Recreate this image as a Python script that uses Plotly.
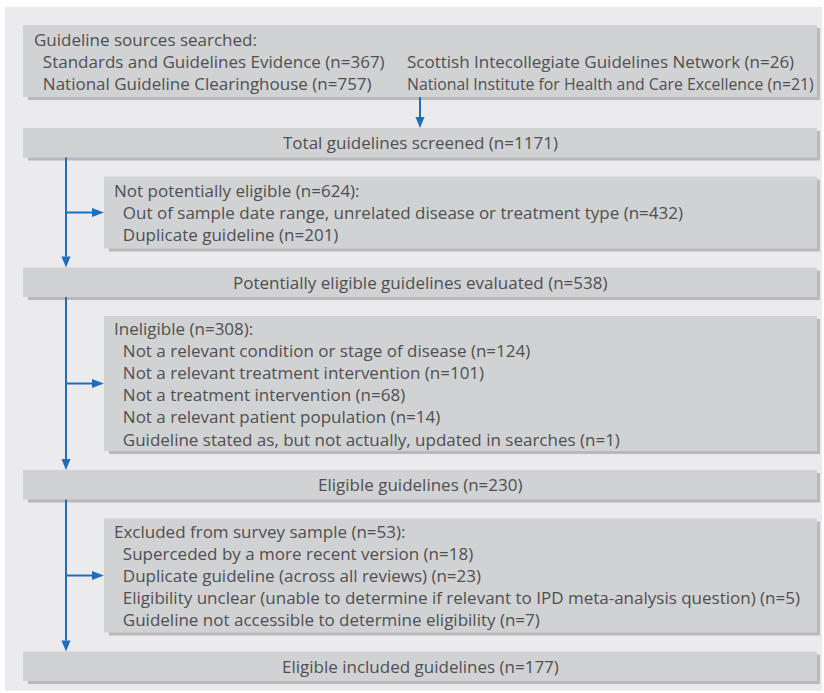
import plotly.graph_objects as go

# ---------------- data ----------------
source_title = "Guideline sources searched:"
source_names = ["Standards and Guidelines Evidence", "National Guideline Clearinghouse",
                "Scottish Intecollegiate Guidelines Network",
                "National Institute for Health and Care Excellence"]
source_n = [367, 757, 26, 21]

stage_labels = ["Total guidelines screened", "Potentially eligible guidelines evaluated",
                "Eligible guidelines", "Eligible included guidelines"]
stage_n = [1171, 538, 230, 177]

excl_titles = ["Not potentially eligible", "Ineligible", "Excluded from survey sample"]
excl_n = [624, 308, 53]
excl_reasons = [
    ["Out of sample date range, unrelated disease or treatment type", "Duplicate guideline"],
    ["Not a relevant condition or stage of disease", "Not a relevant treatment intervention",
     "Not a treatment intervention", "Not a relevant patient population",
     "Guideline stated as, but not actually, updated in searches"],
    ["Superceded by a more recent version", "Duplicate guideline (across all reviews)",
     "Eligibility unclear (unable to determine if relevant to IPD meta-analysis question)",
     "Guideline not accessible to determine eligibility"],
]
excl_reason_n = [[432, 201], [124, 101, 68, 14, 1], [18, 23, 5, 7]]

# ---------------- style / layout ----------------
W, H = 824, 693
PANEL = "#ebebed"
BOX = "#d1d2d4"
SHADOW = "#b8b9bb"
BLUE = "#1a6fbf"
TXT = "#4f4f51"
FONT = "Open Sans"
FS = 17
LINE = 21
IND = "\u00a0\u00a0"

MX0, MX1 = 23, 817      # main box x extents
SX0 = 104               # side box left
SPINE = 66              # vertical connector x

shapes = []
annos = []


def box(x0, y0, x1, y1):
    shapes.append(dict(type="rect", x0=x0 + 5, y0=y0 + 3, x1=x1 + 3, y1=y1 + 3,
                       fillcolor=SHADOW, line=dict(width=0), layer="below"))
    shapes.append(dict(type="rect", x0=x0, y0=y0, x1=x1, y1=y1,
                       fillcolor=BOX, line=dict(width=0), layer="below"))


def text(x, y, s, anchor="left"):
    annos.append(dict(x=x, y=y, text=s, showarrow=False, xanchor=anchor, yanchor="middle",
                      align=anchor if anchor != "center" else "center",
                      font=dict(family=FONT, size=FS, color=TXT)))


def vline_arrow(x, y0, y1, head=True):
    end = y1 - (11 if head else 0)
    shapes.append(dict(type="line", x0=x, y0=y0, x1=x, y1=end, line=dict(color=BLUE, width=2)))
    if head:
        shapes.append(dict(type="path", path=f"M{x-4.5},{end} L{x+4.5},{end} L{x},{y1} Z",
                           fillcolor=BLUE, line=dict(width=0)))


def hline_arrow(x0, x1, y):
    end = x1 - 12
    shapes.append(dict(type="line", x0=x0, y0=y, x1=end, y1=y, line=dict(color=BLUE, width=2)))
    shapes.append(dict(type="path", path=f"M{end},{y-4.5} L{end},{y+4.5} L{x1},{y} Z",
                       fillcolor=BLUE, line=dict(width=0)))


# outer panel
shapes.append(dict(type="rect", x0=5, y0=7, x1=822, y1=691, fillcolor=PANEL,
                   line=dict(width=0), layer="below"))

# top box: sources (two columns)
y = 25
h1 = 3 * LINE + 9
box(MX0, y, MX1, y + h1)
left = [source_title] + [f"{IND}{nm} (n={n})" for nm, n in zip(source_names[:2], source_n[:2])]
text(MX0 + 9, y + h1 / 2, "<br>".join(left))
right = [f"{source_names[2]} (n={source_n[2]})",
         f"<span style='font-size:15.8px'>{source_names[3]} (n={source_n[3]})</span>"]
text(405, y + h1 / 2 + FS * 1.3 / 2, "<br>".join(right))
top_bottom = y + h1
y = top_bottom + 31
vline_arrow(420, top_bottom, y)

stage_h = 29.5
prev_bottom = None
for k, (lab, n) in enumerate(zip(stage_labels, stage_n)):
    if prev_bottom is not None:
        j = k - 1
        sy0 = prev_bottom + 19
        nlines = 1 + len(excl_reasons[j])
        sh = nlines * LINE + 9
        box(SX0, sy0, MX1, sy0 + sh)
        lines = [f"{excl_titles[j]} (n={excl_n[j]}):"] + \
                [f"{IND}{rs} (n={rn})" for rs, rn in zip(excl_reasons[j], excl_reason_n[j])]
        text(SX0 + 8, sy0 + sh / 2, "<br>".join(lines))
        hline_arrow(SPINE, SX0, sy0 + sh / 2)
        y = sy0 + sh + 19
        vline_arrow(SPINE, prev_bottom, y)
    box(MX0, y, MX1, y + stage_h)
    text((MX0 + MX1) / 2, y + stage_h / 2, f"{lab} (n={n})", anchor="center")
    prev_bottom = y + stage_h

fig = go.Figure()
fig.update_layout(
    width=W, height=H, margin=dict(l=0, r=0, t=0, b=0),
    paper_bgcolor="white", plot_bgcolor="white",
    xaxis=dict(range=[0, W], visible=False, fixedrange=True),
    yaxis=dict(range=[H, 0], visible=False, fixedrange=True),
    shapes=shapes, annotations=annos, showlegend=False,
)
fig.write_html("out.html", post_script="document.body.style.margin='0';",
               config={"displayModeBar": False})
